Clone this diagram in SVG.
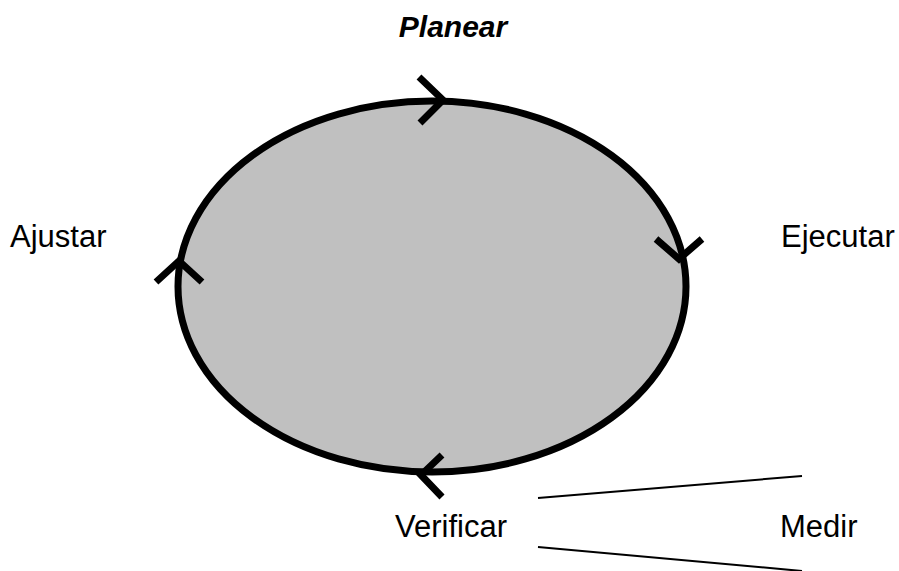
<svg xmlns="http://www.w3.org/2000/svg" width="899" height="571" viewBox="0 0 899 571">
<style>
.lbl{font-family:"Liberation Sans",Arial,sans-serif;font-size:31px;fill:#000}
.chev{fill:none;stroke:#000;stroke-width:7;stroke-linecap:butt;stroke-linejoin:miter}
.ln{stroke:#000;stroke-width:2;fill:none}
</style>
<rect width="899" height="571" fill="#fff"/>
<g id="cycle">
<ellipse cx="432" cy="286.5" rx="254" ry="185.5" fill="#c0c0c0" stroke="#000" stroke-width="7"/>
</g>
<g id="connectors">
<polyline class="chev" points="419,77 443,100 420,123"/>
<polyline class="chev" points="656,239 679,259 702,239"/>
<polyline class="chev" points="156,282 179,261 202,282"/>
<polyline class="chev" points="442,455 421,475 442,497"/>
<line class="ln" x1="538" y1="498" x2="802" y2="476"/>
<line class="ln" x1="538" y1="547" x2="802" y2="571"/>
</g>
<g id="planear"><text x="453" y="37" text-anchor="middle" style="font-family:'Liberation Sans',Arial,sans-serif;font-size:30px;font-weight:bold;font-style:italic">Planear</text></g>
<g id="ejecutar"><text class="lbl" x="781" y="247">Ejecutar</text></g>
<g id="ajustar"><text class="lbl" x="10" y="247">Ajustar</text></g>
<g id="verificar"><text class="lbl" x="395" y="537">Verificar</text></g>
<g id="medir"><text class="lbl" x="780" y="537">Medir</text></g>
</svg>
